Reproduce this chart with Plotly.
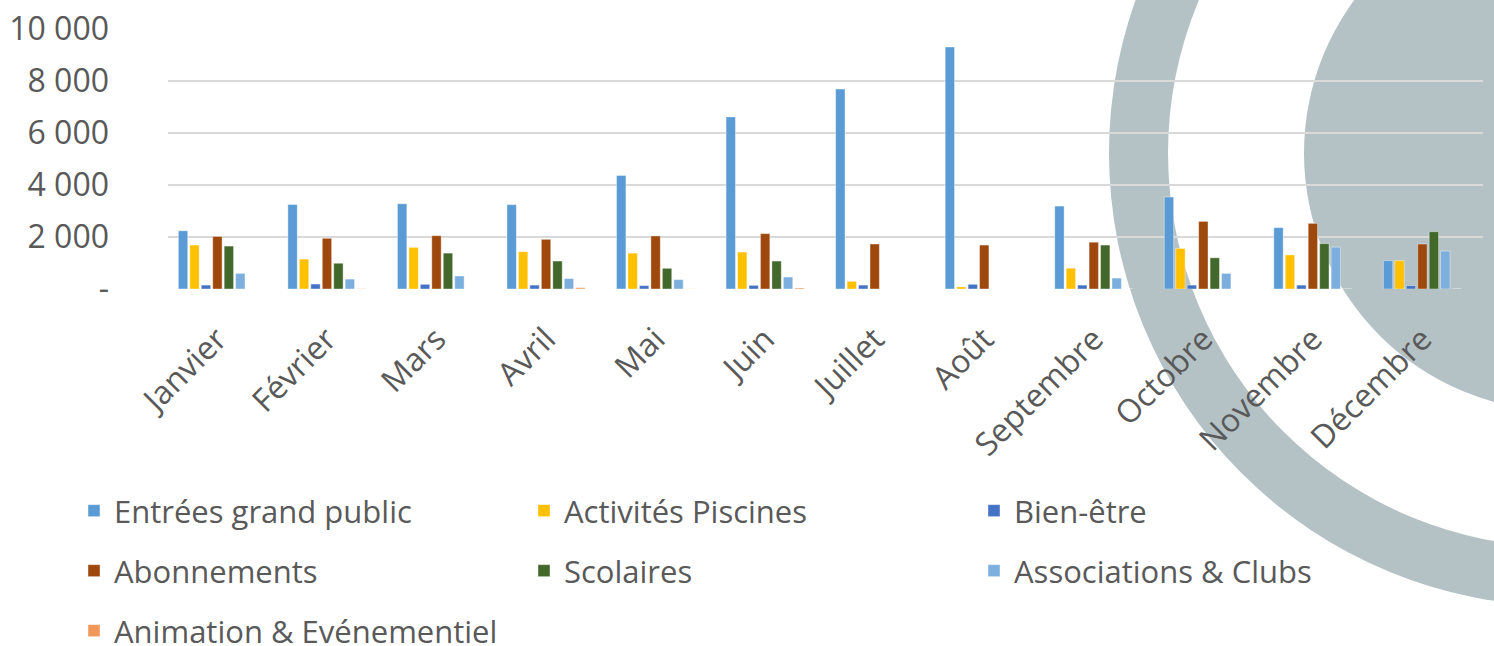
import plotly.graph_objects as go

months = ["Janvier", "Février", "Mars", "Avril", "Mai", "Juin", "Juillet",
          "Août", "Septembre", "Octobre", "Novembre", "Décembre"]

entrees = [2240, 3250, 3280, 3245, 4370, 6620, 7690, 9310, 3190, 3540, 2360, 1090]
activites = [1690, 1150, 1600, 1435, 1380, 1420, 295, 80, 800, 1560, 1310, 1090]
bien_etre = [150, 190, 180, 150, 130, 140, 150, 180, 150, 150, 150, 130]
abonnements = [2020, 1950, 2050, 1910, 2040, 2130, 1730, 1690, 1800, 2600, 2525, 1730]
scolaires = [1650, 990, 1380, 1075, 795, 1075, 0, 0, 1690, 1200, 1745, 2205]
associations = [600, 380, 500, 400, 360, 460, 0, 0, 420, 600, 1610, 1460]
animation = [0, 10, 0, 50, 5, 40, 0, 0, 0, 0, 0, 0]

series_names = ["Entrées grand public", "Activités Piscines", "Bien-être",
                "Abonnements", "Scolaires", "Associations & Clubs",
                "Animation & Evénementiel"]
series_values = [entrees, activites, bien_etre, abonnements, scolaires,
                 associations, animation]
series_colors = ["#5B9BD5", "#FFC000", "#4472C4", "#9E480E", "#43682B",
                 "#7CAFDD", "#F1975A"]

y_tickvals = [0, 2000, 4000, 6000, 8000, 10000]
y_ticktext = ["-", "2 000", "4 000", "6 000", "8 000", "10 000"]

W, H = 1494, 646
ML, MR, MT, MB = 168, 11, 29, 357
PW = W - ML - MR
PH = H - MT - MB
TXT = "#595959"
FONT = "Open Sans"

# legend grid (pixels): 3 columns x 3 rows
LEG_COL_X = [74, 524, 974]
LEG_ROW_Y = [511, 571, 631]

fig = go.Figure()
legends = {}
for i, (name, vals, col) in enumerate(zip(series_names, series_values, series_colors)):
    key = "legend" if i == 0 else f"legend{i + 1}"
    fig.add_trace(go.Bar(
        x=months, y=vals, name=name, legend=key, showlegend=True,
        marker=dict(color=col, line=dict(color="rgba(255,255,255,0.5)", width=0.8)),
    ))
    legends[key] = dict(
        orientation="h",
        xref="container", yref="container",
        x=LEG_COL_X[i % 3] / W, y=1 - LEG_ROW_Y[i // 3] / H,
        xanchor="left", yanchor="middle",
        font=dict(family=FONT, size=31, color=TXT),
        bgcolor="rgba(0,0,0,0)",
    )

# decorative background circles (pixel geometry converted to paper coords)
def circle(cx, cy, r, color):
    return dict(
        type="circle", xref="paper", yref="paper", layer="below",
        x0=(cx - r - ML) / PW, x1=(cx + r - ML) / PW,
        y0=(MT + PH - (cy + r)) / PH, y1=(MT + PH - (cy - r)) / PH,
        fillcolor=color, line=dict(width=0),
    )

GRAY = "#B4C2C5"
CX, CY = 1562, 153
shapes = [circle(CX, CY, 453, GRAY), circle(CX, CY, 394, "white"),
          circle(CX, CY, 258, GRAY)]

fig.update_layout(
    width=W, height=H, showlegend=True,
    margin=dict(l=ML, r=MR, t=MT, b=MB, autoexpand=False),
    paper_bgcolor="white", plot_bgcolor="rgba(0,0,0,0)",
    barmode="group", bargap=0.268, bargroupgap=0.18,
    font=dict(family=FONT, color=TXT),
    shapes=shapes,
    xaxis=dict(
        range=[-0.451, 11.553], tickangle=-45, showgrid=False,
        showline=False, ticks="", zeroline=False, automargin=False,
        ticklabelstandoff=24,
        tickfont=dict(family=FONT, size=32, color=TXT),
    ),
    yaxis=dict(
        range=[0, 10000], tickvals=y_tickvals, ticktext=y_ticktext,
        showgrid=True, gridcolor="#D9D9D9", gridwidth=1.5,
        zeroline=False, showline=False, ticks="", automargin=False,
        ticklabelstandoff=58,
        tickfont=dict(family=FONT, size=32, color=TXT),
    ),
    **legends,
)

fig.write_html("out.html", config={"displayModeBar": False},
               post_script="document.body.style.margin='0';")
